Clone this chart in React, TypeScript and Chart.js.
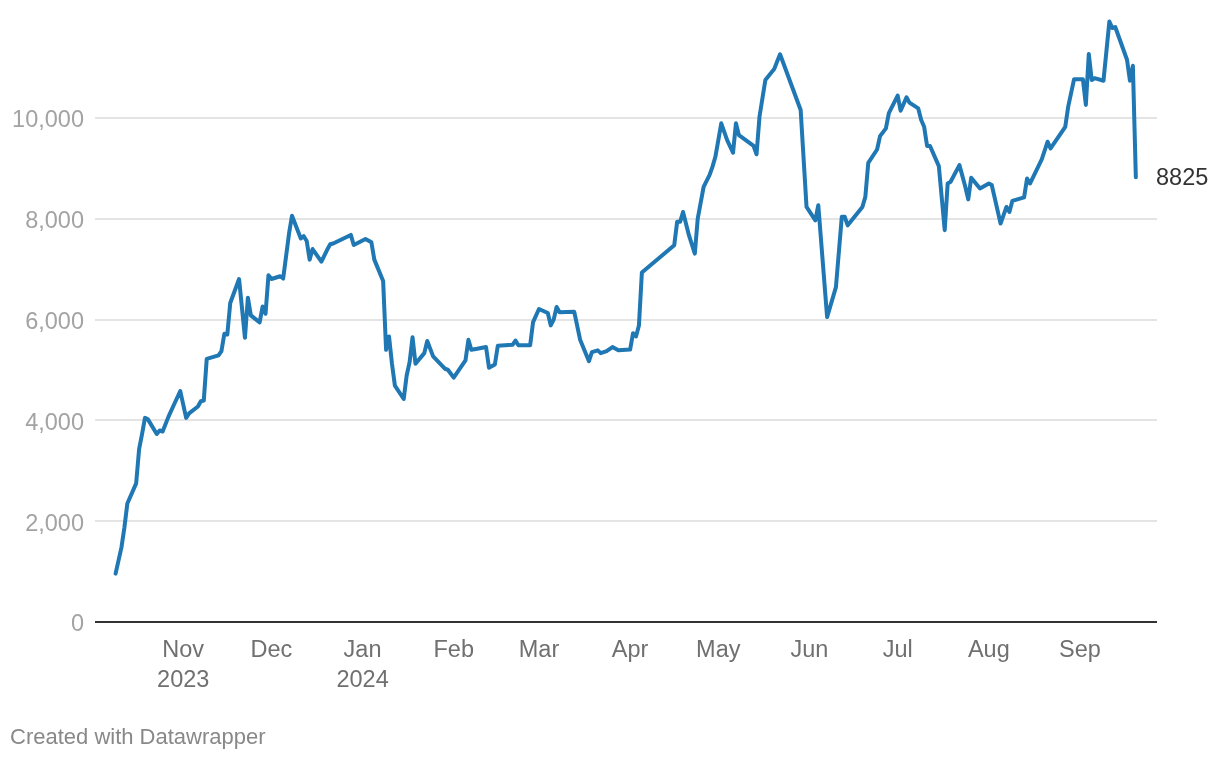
import React, { useEffect, useRef } from 'react';
import { Chart, registerables } from 'chart.js';

Chart.register(...registerables);

const FONT = '"Liberation Sans", Arial, Helvetica, sans-serif';

// ---- data ----
const dates: string[] = [
  '2023-10-09', '2023-10-11', '2023-10-12', '2023-10-13', '2023-10-16', '2023-10-17', '2023-10-18', '2023-10-19',
  '2023-10-20', '2023-10-23', '2023-10-24', '2023-10-25', '2023-10-27', '2023-10-29', '2023-10-31', '2023-11-02',
  '2023-11-03', '2023-11-06', '2023-11-07', '2023-11-08', '2023-11-09', '2023-11-13', '2023-11-14', '2023-11-15',
  '2023-11-16', '2023-11-17', '2023-11-20', '2023-11-22', '2023-11-23', '2023-11-24', '2023-11-27', '2023-11-28',
  '2023-11-29', '2023-11-30', '2023-12-01', '2023-12-04', '2023-12-05', '2023-12-07', '2023-12-08', '2023-12-11',
  '2023-12-12', '2023-12-13', '2023-12-14', '2023-12-15', '2023-12-18', '2023-12-20', '2023-12-21', '2023-12-22',
  '2023-12-28', '2023-12-29', '2024-01-02', '2024-01-04', '2024-01-05', '2024-01-08', '2024-01-09', '2024-01-10',
  '2024-01-11', '2024-01-12', '2024-01-15', '2024-01-16', '2024-01-17', '2024-01-18', '2024-01-19', '2024-01-22',
  '2024-01-23', '2024-01-25', '2024-01-29', '2024-01-30', '2024-02-01', '2024-02-05', '2024-02-06', '2024-02-07',
  '2024-02-09', '2024-02-12', '2024-02-13', '2024-02-15', '2024-02-16', '2024-02-21', '2024-02-22', '2024-02-23',
  '2024-02-27', '2024-02-28', '2024-03-01', '2024-03-04', '2024-03-05', '2024-03-06', '2024-03-07', '2024-03-08',
  '2024-03-13', '2024-03-15', '2024-03-18', '2024-03-19', '2024-03-21', '2024-03-22', '2024-03-24', '2024-03-26',
  '2024-03-28', '2024-04-01', '2024-04-02', '2024-04-03', '2024-04-04', '2024-04-05', '2024-04-16', '2024-04-17',
  '2024-04-18', '2024-04-19', '2024-04-21', '2024-04-23', '2024-04-24', '2024-04-26', '2024-04-28', '2024-04-29',
  '2024-04-30', '2024-05-02', '2024-05-04', '2024-05-06', '2024-05-07', '2024-05-08', '2024-05-13', '2024-05-14',
  '2024-05-15', '2024-05-17', '2024-05-20', '2024-05-21', '2024-05-22', '2024-05-29', '2024-05-31', '2024-06-03',
  '2024-06-04', '2024-06-07', '2024-06-10', '2024-06-12', '2024-06-13', '2024-06-14', '2024-06-19', '2024-06-20',
  '2024-06-21', '2024-06-24', '2024-06-25', '2024-06-27', '2024-06-28', '2024-07-01', '2024-07-02', '2024-07-04',
  '2024-07-05', '2024-07-08', '2024-07-09', '2024-07-10', '2024-07-11', '2024-07-12', '2024-07-15', '2024-07-17',
  '2024-07-18', '2024-07-19', '2024-07-22', '2024-07-24', '2024-07-25', '2024-07-26', '2024-07-29', '2024-08-01',
  '2024-08-02', '2024-08-05', '2024-08-07', '2024-08-08', '2024-08-09', '2024-08-13', '2024-08-14', '2024-08-15',
  '2024-08-19', '2024-08-21', '2024-08-22', '2024-08-27', '2024-08-28', '2024-08-30', '2024-09-02', '2024-09-03',
  '2024-09-04', '2024-09-05', '2024-09-06', '2024-09-09', '2024-09-11', '2024-09-12', '2024-09-13', '2024-09-17',
  '2024-09-18', '2024-09-19', '2024-09-20',
];

const values: number[] = [
  960, 1480, 1875, 2350, 2750, 3430, 3730, 4050,
  4020, 3730, 3800, 3780, 4075, 4330, 4580, 4050,
  4140, 4275, 4380, 4395, 5220, 5290, 5375, 5720,
  5705, 6330, 6805, 5640, 6435, 6085, 5945, 6260,
  6115, 6880, 6805, 6860, 6815, 7710, 8060, 7610,
  7655, 7560, 7190, 7400, 7150, 7390, 7495, 7510,
  7680, 7480, 7600, 7535, 7190, 6765, 5400, 5665,
  5125, 4690, 4425, 4890, 5155, 5650, 5125, 5335,
  5575, 5270, 5025, 5005, 4850, 5190, 5600, 5400,
  5420, 5455, 5045, 5110, 5480, 5500, 5585, 5490,
  5490, 5950, 6210, 6130, 5885, 6000, 6250, 6145,
  6155, 5600, 5175, 5355, 5390, 5335, 5375, 5455,
  5390, 5405, 5730, 5665, 5885, 6935, 7475, 7940,
  7940, 8135, 7675, 7310, 8005, 8635, 8865, 9030,
  9230, 9895, 9560, 9310, 9895, 9660, 9445, 9280,
  10025, 10755, 10970, 11120, 11265, 10160, 8235, 7970,
  8270, 6050, 6645, 8040, 8040, 7870, 8235, 8435,
  9110, 9375, 9640, 9795, 10095, 10445, 10145, 10410,
  10305, 10190, 9960, 9825, 9445, 9445, 9045, 7775,
  8700, 8735, 9065, 8635, 8385, 8815, 8600, 8700,
  8670, 7905, 8235, 8135, 8355, 8425, 8800, 8700,
  9180, 9530, 9395, 9825, 10225, 10770, 10770, 10260,
  11270, 10755, 10790, 10740, 11915, 11785, 11805, 11155,
  10740, 11035, 8825,
];

const tickDates: string[] = [
  '2023-11-01', '2023-12-01', '2024-01-01', '2024-02-01', '2024-03-01', '2024-04-01',
  '2024-05-01', '2024-06-01', '2024-07-01', '2024-08-01', '2024-09-01',
];
const tickLabels: string[][] = [
  ['Nov', '2023'], ['Dec'], ['Jan', '2024'], ['Feb'], ['Mar'], ['Apr'],
  ['May'], ['Jun'], ['Jul'], ['Aug'], ['Sep'],
];
const yTicks: number[] = [0, 2000, 4000, 6000, 8000, 10000];
const xRange: string[] = ['2023-10-02', '2024-09-27'];
const yRange: number[] = [0, 12000];

const dayNum = (s: string): number => {
  const [y, m, d] = s.split('-').map(Number);
  return Date.UTC(y, m - 1, d) / 86400000;
};

const endLabelPlugin = {
  id: 'endLabel',
  afterDatasetsDraw(chart: any) {
    const meta = chart.getDatasetMeta(0);
    const pt = meta.data[meta.data.length - 1];
    if (!pt) return;
    const ctx = chart.ctx;
    ctx.save();
    ctx.font = `23.5px ${FONT}`;
    ctx.fillStyle = '#333333';
    ctx.textAlign = 'left';
    ctx.textBaseline = 'middle';
    ctx.fillText(String(values[values.length - 1]), chart.chartArea.right - 1, pt.y + 1.5);
    ctx.restore();
  },
};

export default function App() {
  const ref = useRef<HTMLCanvasElement>(null);

  useEffect(() => {
    document.body.style.margin = '0';
    const canvas = ref.current;
    if (!canvas) return;
    const points = dates.map((d, i) => ({ x: dayNum(d), y: values[i] }));
    const chart = new Chart(canvas, {
      type: 'line',
      data: {
        datasets: [
          {
            data: points,
            borderColor: '#1f77b4',
            borderWidth: 4,
            borderJoinStyle: 'round',
            borderCapStyle: 'round',
            pointRadius: 0,
            pointHoverRadius: 0,
            tension: 0,
            fill: false,
            clip: false,
          } as any,
        ],
      },
      options: {
        responsive: false,
        maintainAspectRatio: false,
        animation: false,
        devicePixelRatio: 1,
        layout: { padding: { top: 17.2, right: 63, left: 0, bottom: 0 } },
        plugins: { legend: { display: false }, tooltip: { enabled: false } },
        scales: {
          x: {
            type: 'linear',
            min: dayNum(xRange[0]),
            max: dayNum(xRange[1]) + 0.2,
            grid: { display: false, drawTicks: false },
            border: { display: false },
            afterBuildTicks: (scale: any) => {
              scale.ticks = tickDates.map((d) => ({ value: dayNum(d) }));
            },
            afterFit: (scale: any) => {
              scale.height = 138;
              scale.paddingLeft = 0;
              scale.paddingRight = 0;
            },
            ticks: {
              autoSkip: false,
              maxRotation: 0,
              minRotation: 0,
              padding: 14,
              color: '#707070',
              font: { family: FONT, size: 23.5, lineHeight: 1.277 },
              callback: (value: any) => {
                const idx = tickDates.findIndex((d) => dayNum(d) === value);
                return idx >= 0 ? tickLabels[idx] : '';
              },
            },
          },
          y: {
            type: 'linear',
            min: yRange[0],
            max: yRange[1],
            grid: {
              drawTicks: false,
              color: (ctx: any) => (ctx.tick && ctx.tick.value === 0 ? '#333333' : '#e4e4e4'),
              lineWidth: 2,
            },
            border: { display: false },
            afterBuildTicks: (scale: any) => {
              scale.ticks = yTicks.map((v) => ({ value: v }));
            },
            afterFit: (scale: any) => {
              scale.width = 95;
              scale.paddingTop = 0;
              scale.paddingBottom = 0;
            },
            ticks: {
              padding: 11,
              labelOffset: 3,
              color: '#a3a3a3',
              font: { family: FONT, size: 23.5 },
              callback: (value: any) => Number(value).toLocaleString('en-US'),
            },
          },
        },
      },
      plugins: [endLabelPlugin],
    });
    return () => chart.destroy();
  }, []);

  return (
    <div style={{ position: 'relative', width: 1220, height: 760, background: '#ffffff', fontFamily: FONT }}>
      <canvas ref={ref} width={1220} height={760} style={{ display: 'block', width: 1220, height: 760 }} />
      <div
        style={{
          position: 'absolute',
          left: 10,
          top: 724,
          fontSize: 22,
          lineHeight: '26px',
          color: '#888888',
          whiteSpace: 'nowrap',
        }}
      >
        Created with Datawrapper
      </div>
    </div>
  );
}
